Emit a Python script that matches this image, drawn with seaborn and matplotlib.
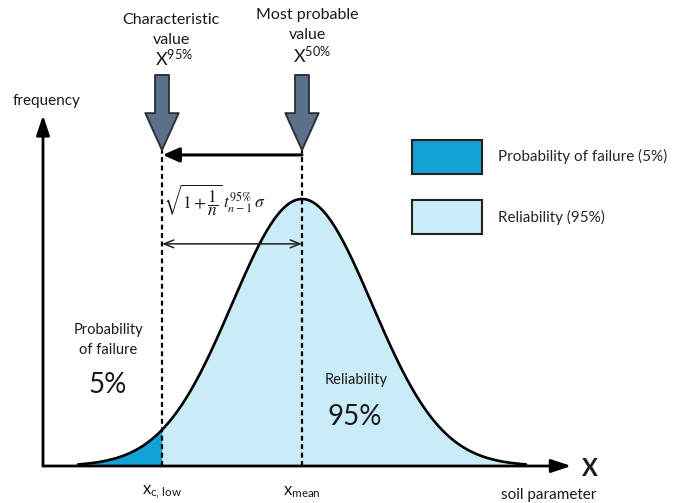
import numpy as np
import pandas as pd
import matplotlib
matplotlib.use("Agg")
import matplotlib.pyplot as plt
import seaborn as sns
from matplotlib.patches import Patch

# ---------------- data ----------------
x_mean = 0.0          # most probable value (X 50%)
x_sigma = 1.0         # standard deviation
x_c_low = -2.0        # characteristic value (X 95%)
curve_span = 3.2      # curve drawn to +/- this many sigma
legend_labels = ["Probability of failure (5%)", "Reliability (95%)"]
pct_failure = "5%"
pct_reliability = "95%"

# ---------------- style ----------------
sns.set_theme(style="white")
plt.rcParams['font.family'] = ['Lato', 'DejaVu Sans']
plt.rcParams['mathtext.fontset'] = 'custom'
plt.rcParams['mathtext.rm'] = 'Lato'
plt.rcParams['mathtext.it'] = 'Lato:italic'
plt.rcParams['mathtext.bf'] = 'Lato:bold'

dark_fill = "#13a2d4"
light_fill = "#c9ecf8"
arrow_fc = "#5b7189"
arrow_ec = "#2a323c"
txt = "#1a1a1a"

W, H = 675, 503
fig = plt.figure(figsize=(W / 100, H / 100), dpi=100)
ax = fig.add_axes([43 / W, 37 / H, 522 / W, 346 / H])

def F(px, py):
    return px / W, 1 - py / H

x = np.union1d(np.linspace(x_mean - curve_span * x_sigma, x_mean + curve_span * x_sigma, 500), [x_c_low])
dens = np.exp(-0.5 * ((x - x_mean) / x_sigma) ** 2) / (x_sigma * np.sqrt(2 * np.pi))
df = pd.DataFrame({"soil parameter": x, "frequency": dens})
peak = dens.max()

ax.set_xlim(x_mean - 259 / 70 * x_sigma, x_mean + 263 / 70 * x_sigma)
ax.set_ylim(0, peak * 346 / 267)
ax.axis("off")

left = df[df["soil parameter"] <= x_c_low]
right = df[df["soil parameter"] >= x_c_low]
ax.fill_between(left["soil parameter"], left["frequency"], color=dark_fill, lw=0)
ax.fill_between(right["soil parameter"], right["frequency"], color=light_fill, lw=0)
sns.lineplot(data=df, x="soil parameter", y="frequency", color="black", lw=1.9, ax=ax, clip_on=False)

# axes arrows
ax.annotate("", xy=(1.012, 0), xytext=(0, 0), xycoords="axes fraction",
            arrowprops=dict(arrowstyle="-|>,head_length=0.6,head_width=0.2", lw=2.0, color="black",
                            mutation_scale=20, shrinkA=0, shrinkB=0), annotation_clip=False)
ax.annotate("", xy=(0, 1.014), xytext=(0, 0), xycoords="axes fraction",
            arrowprops=dict(arrowstyle="-|>,head_length=0.6,head_width=0.2", lw=2.0, color="black",
                            mutation_scale=20, shrinkA=0, shrinkB=0), annotation_clip=False)

xt = ax.get_xaxis_transform()
# dashed verticals
for xv in (x_c_low, x_mean):
    ax.plot([xv, xv], [0, 0.913], transform=xt, color="black", lw=1.6,
            ls=(0, (2.2, 1.6)), clip_on=False)

# block arrows
for xv in (x_c_low, x_mean):
    ax.annotate("", xy=(xv, 0.913), xytext=(xv, 1.13), xycoords=xt,
                arrowprops=dict(arrowstyle="simple,head_length=1.33,head_width=1.2,tail_width=0.5",
                                fc=arrow_fc, ec=arrow_ec, lw=1.4, mutation_scale=20,
                                shrinkA=0, shrinkB=0), annotation_clip=False)

# horizontal thick arrow
ax.annotate("", xy=(x_c_low + 0.01, 0.899), xytext=(x_mean, 0.899), xycoords=xt,
            arrowprops=dict(arrowstyle="-|>,head_length=0.5,head_width=0.22", lw=2.2, color="black",
                            mutation_scale=20, shrinkA=0, shrinkB=0), annotation_clip=False)
# double arrow
ax.annotate("", xy=(x_c_low, 0.642), xytext=(x_mean, 0.642), xycoords=xt,
            arrowprops=dict(arrowstyle="<->,head_length=0.5,head_width=0.2", lw=1.1, color="#222222",
                            mutation_scale=14, shrinkA=0, shrinkB=0), annotation_clip=False)

# formula
ax.text(x_c_low + 0.02, 0.77, r"$\sqrt{1+\dfrac{1}{n}}\,t_{n-1}^{95\%}\,\sigma$", transform=xt,
        ha="left", va="center", fontsize=12.5, math_fontfamily="stix", color=txt)

# texts
fig.text(*F(171, 20), "Characteristic", ha="center", va="center", fontsize=11.5, color=txt)
fig.text(*F(171, 40), "value", ha="center", va="center", fontsize=11.5, color=txt)
fig.text(*F(174, 58), r"X$^{\mathrm{95\%}}$", ha="center", va="center", fontsize=13, color=txt)
fig.text(*F(307, 15), "Most probable", ha="center", va="center", fontsize=11.5, color=txt)
fig.text(*F(307, 35), "value", ha="center", va="center", fontsize=11.5, color=txt)
fig.text(*F(312, 55), r"X$^{\mathrm{50\%}}$", ha="center", va="center", fontsize=13, color=txt)
fig.text(*F(13, 101), "frequency", ha="left", va="center", fontsize=11, color=txt)
fig.text(*F(108, 330), "Probability", ha="center", va="center", fontsize=10.5, color=txt)
fig.text(*F(108, 350), "of failure", ha="center", va="center", fontsize=10.5, color=txt)
fig.text(*F(108, 385), pct_failure, ha="center", va="center", fontsize=20, color=txt)
fig.text(*F(356, 380), "Reliability", ha="center", va="center", fontsize=10.5, color=txt)
fig.text(*F(355, 417), pct_reliability, ha="center", va="center", fontsize=20, color=txt)
fig.text(*F(162, 492), r"x$_{\mathrm{c,\,low}}$", ha="center", va="center", fontsize=12, color=txt)
fig.text(*F(302, 492), r"x$_{\mathrm{mean}}$", ha="center", va="center", fontsize=12, color=txt)
fig.text(*F(549, 495), "soil parameter", ha="center", va="center", fontsize=11, color=txt)
fig.text(*F(590, 468), "X", ha="center", va="center", fontsize=17, fontweight="bold", color=txt)

# legend
handles = [Patch(facecolor=c, edgecolor="#222222", lw=1.5, label=l)
           for c, l in zip([dark_fill, light_fill], legend_labels)]
fig.legend(handles=handles, loc="upper left", bbox_to_anchor=F(412, 140), frameon=False,
           fontsize=11, handlelength=4.6, handleheight=3.0, labelspacing=1.75,
           handletextpad=1.0, borderpad=0, borderaxespad=0)

fig.savefig("out.png", dpi=100)
